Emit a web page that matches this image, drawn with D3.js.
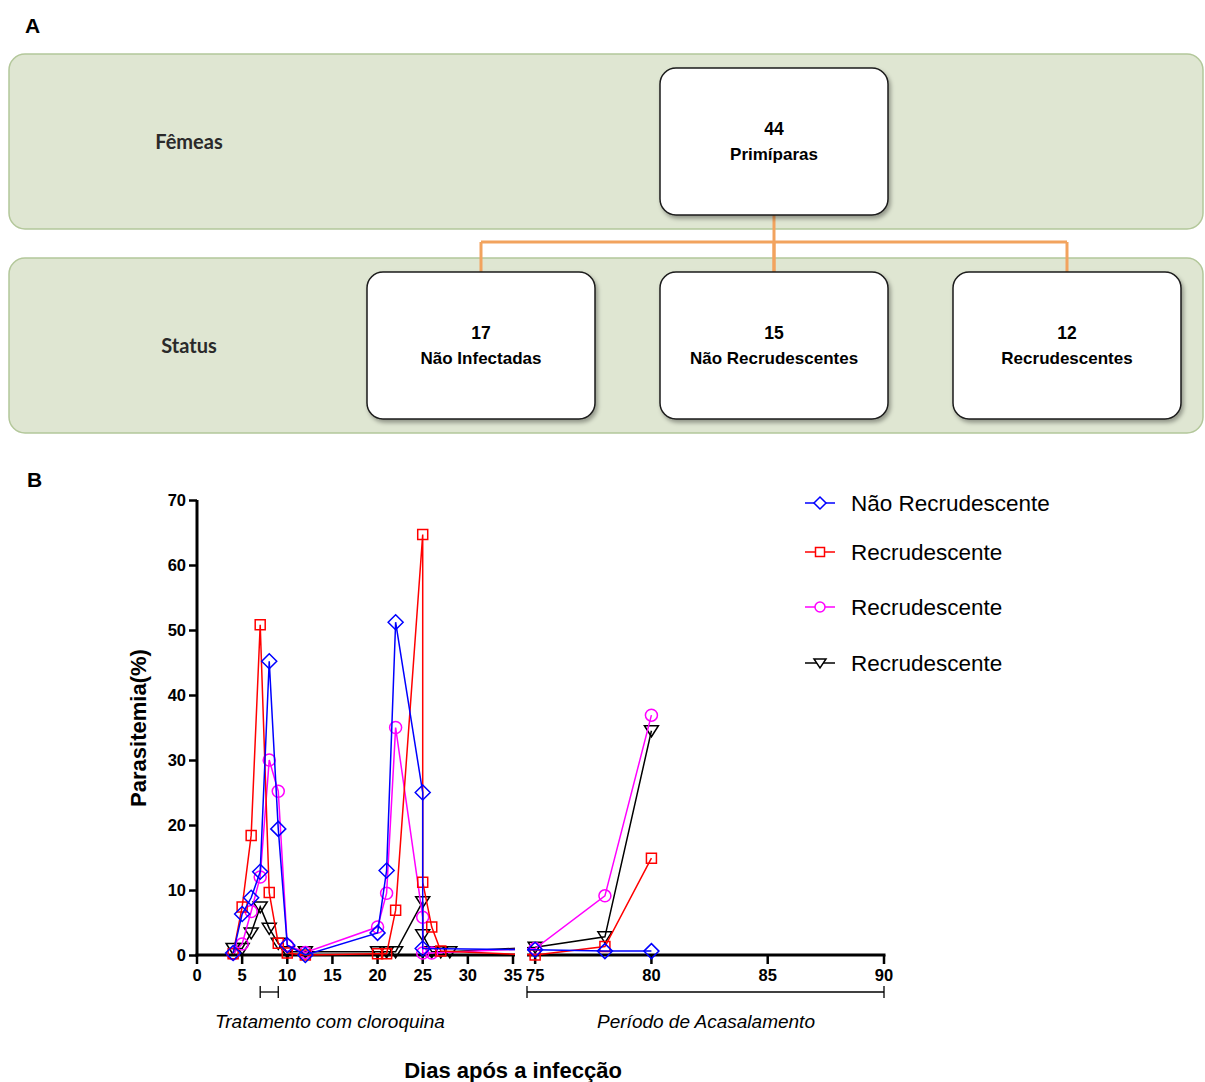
<!DOCTYPE html>
<html>
<head>
<meta charset="utf-8">
<script src="https://cdn.jsdelivr.net/npm/d3@7"></script>
<style>
body { margin: 0; background: #fff; }
svg { display: block; }
</style>
</head>
<body>
<div id="chart"></div>
<script>
// panel A: flow boxes
var bandLabels = ["Fêmeas", "Status"]
var topBox = ["44", "Primíparas"]
var statusCounts = ["17", "15", "12"]
var statusNames = ["Não Infectadas", "Não Recrudescentes", "Recrudescentes"]

// panel B: parasitemia curves
var legendNames = ["Não Recrudescente", "Recrudescente", "Recrudescente", "Recrudescente"]
var seriesColors = ["#0000ff", "#ff0000", "#ff00ff", "#000000"]
var seriesMarkers = ["diamond", "square", "circle", "triangle"]

var blueDays = [4, 5, 6, 7, 8, 9, 10, 12, 20, 21, 22, 25, 25, 75, 78, 80]
var blueVals = [0.3, 6.3, 8.8, 12.8, 45.2, 19.4, 1.5, 0, 3.4, 13.0, 51.2, 25.0, 1.0, 0.8, 0.6, 0.6]
var redDays = [4, 5, 6, 7, 8, 9, 10, 12, 20, 21, 22, 25, 25, 26, 27, 75, 78, 80]
var redVals = [0.2, 7.4, 18.4, 50.8, 9.6, 1.8, 0.3, 0, 0.2, 0.2, 6.9, 64.7, 11.2, 4.3, 0.6, 0, 1.3, 14.9]
var pinkDays = [4, 5, 6, 7, 8, 9, 10, 12, 20, 21, 22, 25, 25, 26, 75, 78, 80]
var pinkVals = [0.2, 1.7, 6.7, 12.0, 30.0, 25.2, 1.5, 0.4, 4.3, 9.5, 35.0, 5.8, 0.3, 0.3, 1.0, 9.1, 36.9]
var blackDays = [4, 5, 6, 7, 8, 9, 10, 12, 20, 21, 22, 25, 25, 26, 27, 28, 75, 78, 80]
var blackVals = [1.0, 1.0, 3.4, 7.4, 4.1, 1.8, 0.5, 0.5, 0.5, 0.5, 0.5, 8.2, 3.1, 0.5, 0.5, 0.5, 1.2, 2.8, 34.5]

var yTicks = [0, 10, 20, 30, 40, 50, 60, 70]
var xTicks1 = [0, 5, 10, 15, 20, 25, 30, 35]
var xTicks2 = [75, 80, 85, 90]
var treatment = [7, 9]
var mating = [74.65, 90]

var W = 1205, H = 1082
var svg = d3.select('#chart').append('svg')
    .attr('width', W)
    .attr('height', H)

var defs = svg.append('defs')
var shadow = defs.append('filter').attr('id', 'shadow')
    .attr('x', '-10%').attr('y', '-10%').attr('width', '130%').attr('height', '130%')
shadow.append('feDropShadow')
    .attr('dx', 2).attr('dy', 3).attr('stdDeviation', 2)
    .attr('flood-color', '#000').attr('flood-opacity', 0.35)

var boldArial = "'Liberation Sans', Arial, sans-serif"

// ---------- panel A ----------
svg.append('text').text('A')
    .attr('x', 25).attr('y', 33)
    .style('font-family', boldArial).style('font-weight', 'bold').style('font-size', '21px')

var bandY = [54, 258]
var bandH = 175
svg.selectAll('.band')
    .data(bandLabels)
    .enter().append('rect')
    .attr('class', 'band')
    .attr('x', 9).attr('y', function(d, i) { return bandY[i] })
    .attr('width', 1194).attr('height', bandH)
    .attr('rx', 16)
    .attr('fill', '#dfe6d2')
    .attr('stroke', '#b3c79a').attr('stroke-width', 1.5)

svg.selectAll('.bandLabel')
    .data(bandLabels)
    .enter().append('text')
    .attr('class', 'bandLabel')
    .attr('x', 189).attr('y', function(d, i) { return bandY[i] + 95 })
    .attr('text-anchor', 'middle')
    .style('font-family', "Lato, 'Open Sans', sans-serif")
    .style('font-size', '20px').style('font-weight', 'bold').style('fill', '#2a2a2a')
    .text(function(d) { return d })

var boxW = 228, boxH = 147
var boxCx = [481, 774, 1067]

// orange connectors
var conn = svg.append('g')
    .attr('fill', 'none').attr('stroke', '#f2a35e').attr('stroke-width', 3)
conn.append('line').attr('x1', 774).attr('x2', 774).attr('y1', 215).attr('y2', 272)
conn.append('line').attr('x1', boxCx[0]).attr('x2', boxCx[2]).attr('y1', 242).attr('y2', 242)
boxCx.forEach(function(cx) {
    conn.append('line').attr('x1', cx).attr('x2', cx).attr('y1', 242).attr('y2', 272)
})

function drawBox(cx, y, line1, line2) {
    var g = svg.append('g')
    g.append('rect')
        .attr('x', cx - boxW / 2).attr('y', y)
        .attr('width', boxW).attr('height', boxH)
        .attr('rx', 16)
        .attr('fill', '#fff').attr('stroke', '#1a1a1a').attr('stroke-width', 1.5)
        .attr('filter', 'url(#shadow)')
    g.append('text').text(line1)
        .attr('x', cx).attr('y', y + 67)
        .attr('text-anchor', 'middle')
        .style('font-family', boldArial).style('font-weight', 'bold').style('font-size', '17.5px')
    g.append('text').text(line2)
        .attr('x', cx).attr('y', y + 92)
        .attr('text-anchor', 'middle')
        .style('font-family', boldArial).style('font-weight', 'bold').style('font-size', '17px')
}
drawBox(774, 68, topBox[0], topBox[1])
statusCounts.forEach(function(c, i) {
    drawBox(boxCx[i], 272, c, statusNames[i])
})

// ---------- panel B ----------
svg.append('text').text('B')
    .attr('x', 27).attr('y', 487)
    .style('font-family', boldArial).style('font-weight', 'bold').style('font-size', '21px')

var y0 = 955
var scaleY = d3.scaleLinear().domain([0, 70]).range([y0, 500])
var scaleX = d3.scaleLinear()
    .domain([0, 35, mating[0], 90])
    .range([197, 513, 527, 884])

// y axis
var yAxis = d3.axisLeft(scaleY).tickValues(yTicks).tickSize(8).tickPadding(3)
var yg = svg.append('g').attr('transform', 'translate(197,0)').call(yAxis)
yg.select('.domain').attr('stroke-width', 3).attr('d', 'M0,' + scaleY(70) + 'V' + (y0 + 1.5))
yg.selectAll('.tick line').attr('stroke-width', 2.5)
yg.selectAll('.tick text')
    .style('font-family', boldArial).style('font-weight', 'bold').style('font-size', '16.5px')
    .attr('fill', '#000')

// x axis, two segments
function xSegment(ticks, x1, x2) {
    var g = svg.append('g').attr('transform', 'translate(0,' + y0 + ')')
    g.append('line').attr('x1', x1).attr('x2', x2).attr('y1', 0).attr('y2', 0)
        .attr('stroke', '#000').attr('stroke-width', 3)
    var t = g.selectAll('.tk').data(ticks).enter().append('g')
        .attr('transform', function(d) { return 'translate(' + scaleX(d) + ',0)' })
    t.append('line').attr('y1', 0).attr('y2', 9).attr('stroke', '#000').attr('stroke-width', 2.5)
    t.append('text').text(function(d) { return d })
        .attr('y', 26).attr('text-anchor', 'middle')
        .style('font-family', boldArial).style('font-weight', 'bold').style('font-size', '16.5px')
}
xSegment(xTicks1, 195.5, 515)
xSegment(xTicks2, scaleX(mating[0]), 885.5)

// brackets below axis
function bracket(a, b, y, label, lx) {
    var x1 = scaleX(a), x2 = scaleX(b)
    var g = svg.append('g').attr('stroke', '#000').attr('stroke-width', 1.3)
    g.append('line').attr('x1', x1).attr('x2', x2).attr('y1', y).attr('y2', y)
    g.append('line').attr('x1', x1).attr('x2', x1).attr('y1', y - 6).attr('y2', y + 6)
    g.append('line').attr('x1', x2).attr('x2', x2).attr('y1', y - 6).attr('y2', y + 6)
    svg.append('text').text(label)
        .attr('x', lx).attr('y', 1028).attr('text-anchor', 'middle')
        .style('font-family', boldArial).style('font-style', 'italic').style('font-size', '19px')
}
bracket(treatment[0], treatment[1], 992, 'Tratamento com cloroquina', 330)
bracket(mating[0], mating[1], 992, 'Período de Acasalamento', 706)

svg.append('text').text('Dias após a infecção')
    .attr('x', 513).attr('y', 1078).attr('text-anchor', 'middle')
    .style('font-family', boldArial).style('font-weight', 'bold').style('font-size', '22px')

svg.append('text').text('Parasitemia(%)')
    .attr('transform', 'translate(146,728) rotate(-90)')
    .attr('text-anchor', 'middle')
    .style('font-family', boldArial).style('font-weight', 'bold').style('font-size', '22px')

// clip: gap between axis segments
var clip = defs.append('clipPath').attr('id', 'plotclip')
clip.append('rect').attr('x', 180).attr('y', 470).attr('width', 335).attr('height', 500)
clip.append('rect').attr('x', 527).attr('y', 470).attr('width', 370).attr('height', 500)

function markerPath(type) {
    if (type == 'diamond') return 'M0,-7.5L7.5,0L0,7.5L-7.5,0Z'
    if (type == 'square') return 'M-5,-5H5V5H-5Z'
    if (type == 'circle') return 'M6,0A6,6 0 1,1 -6,0A6,6 0 1,1 6,0Z'
    return 'M-7,-5H7L0,6Z'
}

var allSeries = [
    { days: blueDays, vals: blueVals },
    { days: redDays, vals: redVals },
    { days: pinkDays, vals: pinkVals },
    { days: blackDays, vals: blackVals }
]

var line = d3.line()
    .x(function(d) { return scaleX(d[0]) })
    .y(function(d) { return scaleY(d[1]) })

var plot = svg.append('g').attr('clip-path', 'url(#plotclip)')
// draw in reverse so blue ends on top
for (var s = allSeries.length - 1; s >= 0; s--) {
    var ser = allSeries[s]
    var pts = ser.days.map(function(d, i) { return [d, ser.vals[i]] })
    var g = plot.append('g')
    g.append('path').datum(pts)
        .attr('d', line)
        .attr('fill', 'none')
        .attr('stroke', seriesColors[s]).attr('stroke-width', 1.5)
    g.selectAll('.mk').data(pts).enter().append('path')
        .attr('transform', function(d) { return 'translate(' + scaleX(d[0]) + ',' + scaleY(d[1]) + ')' })
        .attr('d', markerPath(seriesMarkers[s]))
        .attr('fill', 'none')
        .attr('stroke', seriesColors[s]).attr('stroke-width', 1.5)
}

// legend
var legY = [503, 552, 607, 663]
var leg = svg.selectAll('.leg').data(legendNames).enter().append('g')
    .attr('transform', function(d, i) { return 'translate(820,' + legY[i] + ')' })
leg.append('line').attr('x1', -15).attr('x2', 15)
    .attr('stroke', function(d, i) { return seriesColors[i] }).attr('stroke-width', 1.5)
leg.append('path')
    .attr('d', function(d, i) {
        var t = seriesMarkers[i]
        if (t == 'diamond') return 'M0,-6L6,0L0,6L-6,0Z'
        if (t == 'square') return 'M-4.5,-4.5H4.5V4.5H-4.5Z'
        if (t == 'circle') return 'M5,0A5,5 0 1,1 -5,0A5,5 0 1,1 5,0Z'
        return 'M-6,-4H6L0,5Z'
    })
    .attr('fill', '#fff')
    .attr('stroke', function(d, i) { return seriesColors[i] }).attr('stroke-width', 1.5)
leg.append('text').text(function(d) { return d })
    .attr('x', 31).attr('y', 8)
    .style('font-family', boldArial).style('font-size', '22.5px')
</script>
</body>
</html>
